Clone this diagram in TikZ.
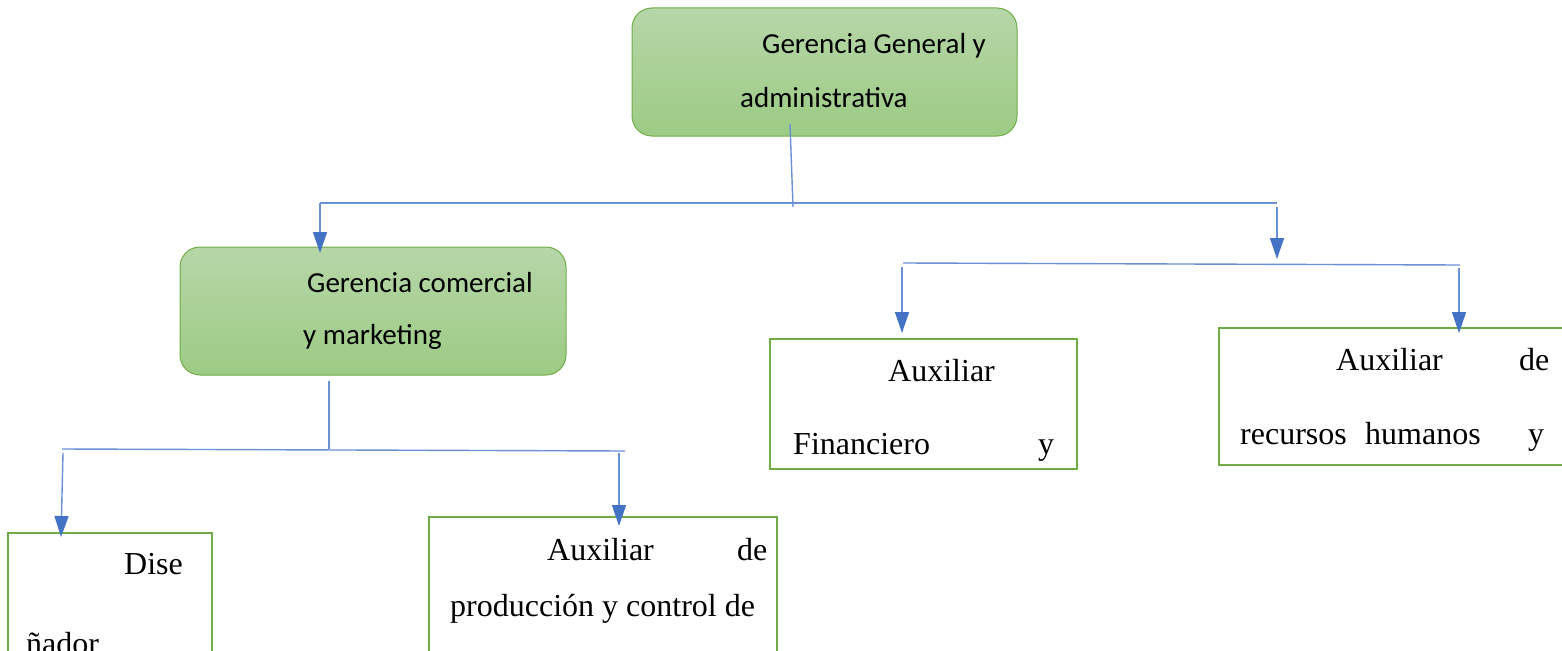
\documentclass[tikz,border=0pt]{standalone}
\usepackage{fontspec}
\setmainfont{Liberation Serif}
\newfontfamily\calib{Carlito}
\usetikzlibrary{arrows.meta}
\definecolor{gtop}{HTML}{B6D6A8}
\definecolor{gbot}{HTML}{9CCB84}
\definecolor{gline}{HTML}{70AD47}
\definecolor{bline}{HTML}{6A90D6}
\definecolor{btip}{HTML}{4472C4}
\tikzset{
  gbox/.style={draw=gline, line width=1pt, rounded corners=20pt, top color=gtop, bottom color=gbot, inner sep=0pt},
  wbox/.style={draw=gline, line width=2.8pt, fill=white, inner sep=0pt},
  ctext/.style={font=\calib\fontsize{29}{34}\selectfont, anchor=base west, inner sep=0pt},
  ttext/.style={font=\fontsize{32}{38}\selectfont, anchor=base west, inner sep=0pt},
  conn/.style={draw=bline, line width=1.4pt},
  arr/.style={conn, -{Triangle[length=21pt,width=14pt,color=btip]}},
}
\begin{document}
\begin{tikzpicture}[x=1pt,y=-1pt]
\useasboundingbox (0,0) rectangle (1562,650);
\clip (0,0) rectangle (1562,650);
\fill[white] (0,0) rectangle (1562,650);
% boxes
\node[gbox, minimum width=385pt, minimum height=128pt] (top) at (824.5,72) {};
\node[gbox, minimum width=386pt, minimum height=128pt] (com) at (373,311) {};
\node[wbox, minimum width=204pt, minimum height=200pt] (dis) at (110,633) {};
\node[wbox, minimum width=348pt, minimum height=200pt] (pro) at (603,617) {};
\node[wbox, minimum width=307pt, minimum height=130pt] (fin) at (923.5,404) {};
\node[wbox, minimum width=360pt, minimum height=137pt] (rrh) at (1399,396.5) {};
% texts
\node[ctext] (t1) at (762,54) {Gerencia General y};
\node[ctext] (t2) at (740,108) {administrativa};
\node[ctext] (c1) at (307,292) {Gerencia comercial};
\node[ctext] (c2) at (303,344) {y marketing};
\node[ttext] (d1) at (124,574) {Dise};
\node[ttext] (d2) at (26,654) {ñador};
\node[ttext] (p1) at (547,560) {Auxiliar};
\node[ttext] (p2) at (737,560) {de};
\node[ttext] (p3) at (450,616) {producción y control de};
\node[ttext] (f1) at (888,381) {Auxiliar};
\node[ttext] (f2) at (793,454) {Financiero};
\node[ttext] (f3) at (1038,454) {y};
\node[ttext] (r1) at (1336,370) {Auxiliar};
\node[ttext] (r2) at (1519,370) {de};
\node[ttext] (r3) at (1240,444) {recursos};
\node[ttext] (r4) at (1365,444) {humanos};
\node[ttext] (r5) at (1528,444) {y};
% junction coordinates
\coordinate (a0) at (790,124);
\coordinate (a1) at (793,207);
\coordinate (h1l) at (320,203);
\coordinate (h1r) at (1277,203);
\coordinate (h1d) at (1277,207);
\coordinate (h2l) at (903,263);
\coordinate (h2r) at (1460,265);
\coordinate (h2a) at (902,267);
\coordinate (h2b) at (1459,268);
\coordinate (b0) at (329,381);
\coordinate (b1) at (329,449);
\coordinate (h3l) at (62,449);
\coordinate (h3r) at (625,451);
\coordinate (h3a) at (63,453);
\coordinate (h3b) at (619,453);
\coordinate (comtip) at (320,253);
\coordinate (rtip) at (1277,259);
\coordinate (fintip) at (902,333);
\coordinate (rrhtip) at (1459,333);
\coordinate (distip) at (61,537);
\coordinate (protip) at (619,526);
% connectors
\draw[conn] (a0) -- (a1);
\draw[conn] (h1l) -- (h1r);
\draw[arr] (h1l) -- (comtip);
\draw[arr] (h1d) -- (rtip);
\draw[conn] (h2l) -- (h2r);
\draw[arr] (h2a) -- (fintip);
\draw[arr] (h2b) -- (rrhtip);
\draw[conn] (b0) -- (b1);
\draw[conn] (h3l) -- (h3r);
\draw[arr] (h3a) -- (distip);
\draw[arr] (h3b) -- (protip);
\end{tikzpicture}
\end{document}
